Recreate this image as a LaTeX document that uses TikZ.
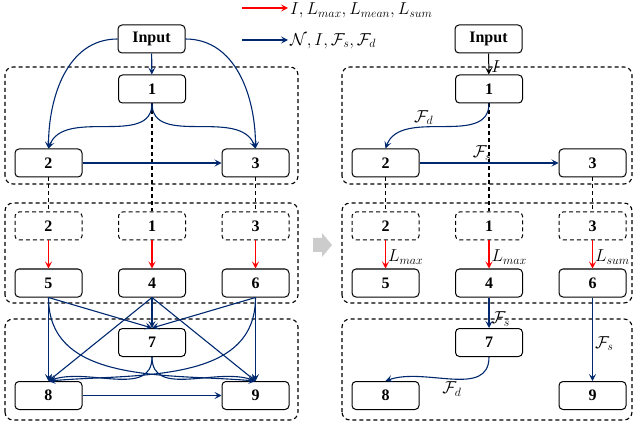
\documentclass[tikz,border=0pt]{standalone}
\usepackage{amsmath}
\usepackage{fontspec}
\setmainfont{Liberation Serif}
\usetikzlibrary{arrows.meta}
\definecolor{navy}{RGB}{0,40,110}

\tikzset{
  blk/.style={draw, rounded corners=4pt, minimum width=67pt, minimum height=28pt,
              line width=1pt, font=\fontsize{16}{19}\selectfont\bfseries},
  dblk/.style={blk, dash pattern=on 4pt off 3pt},
  grp/.style={draw, dash pattern=on 4pt off 3pt, rounded corners=8pt, line width=1.1pt},
  link/.style={dash pattern=on 4pt off 3pt, line width=1.1pt},
  flow/.style={navy, line width=1.1pt, -{Stealth[length=7pt,width=7pt,inset=3pt]}},
  pool/.style={red, line width=1.1pt, -{Stealth[length=7pt,width=7pt,inset=3pt]}},
  tag/.style={inner sep=2pt, text=black, font=\fontsize{17}{20}\selectfont}
}

\begin{document}
\begin{tikzpicture}[x=1pt, y=1pt]
    \useasboundingbox (0,0) rectangle (633,424);

    % legend
    \node[tag, anchor=west] (lgred) at (288,413.5) {$I, L_{max}, L_{mean}, L_{sum}$};
    \node[tag, anchor=west] (lgblue) at (288,383) {$\mathcal{N}, I, \mathcal{F}_s, \mathcal{F}_d$};
    \coordinate (lgr) at (242,416);
    \coordinate (lgb) at (242,384);
    \draw[pool] (lgr) -- (lgr -| lgred.west);
    \draw[flow] (lgb) -- (lgb -| lgblue.west);

    % both panels share the same boxes
    \foreach \s/\dx/\a/\b in {l/0/5/298, r/337/342/632}{
        \draw[grp] (\a,240) rectangle (\b,357);
        \draw[grp] (\a,121) rectangle (\b,221);
        \draw[grp] (\a,4) rectangle (\b,105);
        \begin{scope}[xshift=\dx pt]
            \node[blk] (\s in) at (151.5,385) {Input};
            \node[blk] (\s1) at (152,335) {1};
            \node[blk] (\s2) at (48.5,261) {2};
            \node[blk] (\s3) at (255.5,261) {3};
            \node[dblk] (\s d2) at (48.5,198) {2};
            \node[dblk] (\s d1) at (152,198) {1};
            \node[dblk] (\s d3) at (255.5,198) {3};
            \node[blk] (\s5) at (48.5,141) {5};
            \node[blk] (\s4) at (152,141) {4};
            \node[blk] (\s6) at (255.5,141) {6};
            \node[blk] (\s7) at (152,81.5) {7};
            \node[blk] (\s8) at (48.5,28.5) {8};
            \node[blk] (\s9) at (255.5,28.5) {9};
        \end{scope}
        \draw[link] (\s2.south) -- (\s d2.north);
        \draw[link] (\s1.south) -- (\s d1.north);
        \draw[link] (\s3.south) -- (\s d3.north);
    }

    % gray arrow between panels
    \fill[gray!40] (313,172) -- (322,172) -- (322,167) -- (332,179) -- (322,191)
        -- (322,186) -- (313,186) -- cycle;

    % left panel
    \draw[flow] (lin) -- (l1);
    \draw[flow] (lin.west) to[out=180,in=90] (l2.north);
    \draw[flow] (lin.east) to[out=0,in=90] (l3.north);
    \draw[flow] (l1.south) to[out=-90,in=70] (l2.north);
    \draw[flow] (l1.south) to[out=-90,in=110] (l3.north);
    \draw[flow] (l2) -- (l3);
    \draw[pool] (ld2) -- (l5);
    \draw[pool] (ld1) -- (l4);
    \draw[pool] (ld3) -- (l6);
    \draw[flow] (l5.south) -- (l8.north);
    \draw[flow] (l5.south) -- (l7.north);
    \draw[flow] (l5.south) to[out=-90,in=175] (l9.north);
    \draw[flow] (l4.south) -- (l7.north);
    \draw[flow] (l4.south) -- (l8.north);
    \draw[flow] (l4.south) -- (l9.north);
    \draw[flow] (l6.south) -- (l7.north);
    \draw[flow] (l6.south) -- (l9.north);
    \draw[flow] (l6.south) to[out=-90,in=5] (l8.north);
    \draw[flow] (l7.south) to[out=-90,in=20] (l8.north);
    \draw[flow] (l7.south) to[out=-90,in=160] (l9.north);
    \draw[flow] (l8) -- (l9);

    % right panel
    \draw[line width=1pt, -{Stealth[length=7pt,width=7pt,inset=3pt]}] (rin) -- node[tag, pos=0.6, right] (tI) {$I$} (r1);
    \draw[flow] (r1.south) to[out=-90,in=70] node[tag, pos=0.55, above left] (tFd1) {$\mathcal{F}_d$} (r2.north);
    \draw[flow] (r2) -- node[tag, pos=0.45, above] (tFs1) {$\mathcal{F}_s$} (r3);
    \draw[pool] (rd2) -- node[tag, pos=0.6, right] (tL1) {$L_{max}$} (r5);
    \draw[pool] (rd1) -- node[tag, pos=0.6, right] (tL2) {$L_{max}$} (r4);
    \draw[pool] (rd3) -- node[tag, pos=0.6, right] (tL3) {$L_{sum}$} (r6);
    \draw[flow] (r4) -- node[tag, pos=0.7, right] (tFs2) {$\mathcal{F}_s$} (r7);
    \draw[flow] (r6) -- node[tag, pos=0.55, right] (tFs3) {$\mathcal{F}_s$} (r9);
    \draw[flow] (r7.south) to[out=-90,in=20] node[tag, pos=0.5, below] (tFd2) {$\mathcal{F}_d$} (r8.north);
\end{tikzpicture}
\end{document}
